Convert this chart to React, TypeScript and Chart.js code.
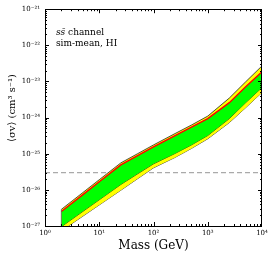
import React, { useEffect, useRef } from "react";
import { Chart, registerables } from "chart.js";

Chart.register(...registerables);

// Dark-matter mass (GeV)
const masses = [2, 5, 10, 25, 50, 100, 250, 500, 1000, 2500, 5000, 10000];
// Yellow band (upper / lower edge), cm^3 s^-1
const yellowHigh = [2.88e-27, 8.45e-27, 1.91e-26, 5.58e-26, 9.88e-26, 1.75e-25, 3.62e-25, 6.21e-25, 1.10e-24, 3.48e-24, 9.79e-24, 2.70e-23];
const yellowLow = [7.36e-28, 1.88e-27, 3.83e-27, 9.77e-27, 2.0e-26, 4.07e-26, 7.92e-26, 1.40e-25, 2.59e-25, 7.28e-25, 1.88e-24, 4.97e-24];
// Green band (upper edge drawn red / lower edge)
const greenHigh = [2.51e-27, 7.40e-27, 1.68e-26, 4.92e-26, 8.71e-26, 1.54e-25, 3.19e-25, 5.47e-25, 9.38e-25, 2.59e-24, 7.13e-24, 1.85e-23];
const greenLow = [9.55e-28, 2.54e-27, 5.32e-27, 1.41e-26, 2.73e-26, 5.25e-26, 1.02e-25, 1.75e-25, 3.19e-25, 9.38e-25, 2.59e-24, 6.82e-24];
// Thermal relic cross section
const thermalRelic = 3e-26;
const xRange = [1, 10000];
const yRange = [1e-27, 1e-21];
const xTickExps = [0, 1, 2, 3, 4];
const yTickExps = [-27, -26, -25, -24, -23, -22, -21];

const SUP: Record<string, string> = {
  "0": "⁰", "1": "¹", "2": "²", "3": "³", "4": "⁴", "5": "⁵", "6": "⁶", "7": "⁷", "8": "⁸", "9": "⁹", "-": "⁻",
};
const sup = (n: number) => String(n).split("").map((c) => SUP[c] || c).join("");
const pts = (ys: number[]) => masses.map((m, i) => ({ x: m, y: ys[i] }));

const SERIF = "'DejaVu Serif', serif";

const framePlugin = {
  id: "frameTicks",
  afterDatasetsDraw(chart: any) {
    const { ctx, chartArea: a, scales } = chart;
    const x = scales.x, y = scales.y;
    ctx.save();
    ctx.strokeStyle = "#000";
    ctx.lineWidth = 1;
    ctx.beginPath();
    for (let d = 0; d < 4; d++) {
      for (let k = 1; k <= 9; k++) {
        const px = Math.round(x.getPixelForValue(k * Math.pow(10, d))) + 0.5;
        const len = k === 1 ? 4 : 2;
        ctx.moveTo(px, a.bottom); ctx.lineTo(px, a.bottom - len);
        ctx.moveTo(px, a.top); ctx.lineTo(px, a.top + len);
      }
    }
    for (let d = -27; d < -21; d++) {
      for (let k = 1; k <= 9; k++) {
        const py = Math.round(y.getPixelForValue(k * Math.pow(10, d))) + 0.5;
        const len = k === 1 ? 4 : 2;
        ctx.moveTo(a.left, py); ctx.lineTo(a.left + len, py);
        ctx.moveTo(a.right, py); ctx.lineTo(a.right - len, py);
      }
    }
    ctx.stroke();
    ctx.strokeRect(Math.round(a.left) + 0.5, Math.round(a.top) + 0.5, Math.round(a.right - a.left) - 1, Math.round(a.bottom - a.top));

    // axis titles
    ctx.fillStyle = "#000";
    ctx.textAlign = "center";
    ctx.textBaseline = "middle";
    ctx.font = `12px ${SERIF}`;
    ctx.fillText("Mass (GeV)", (a.left + a.right) / 2, 246);
    ctx.save();
    ctx.translate(12, 108);
    ctx.rotate(-Math.PI / 2);
    ctx.font = `10px ${SERIF}`;
    ctx.fillText("⟨σv⟩ (cm³ s⁻¹)", 0, 0);
    ctx.restore();

    // annotation
    ctx.textAlign = "left";
    ctx.textBaseline = "alphabetic";
    ctx.font = `italic 9px ${SERIF}`;
    const t1 = "ss̄";
    ctx.fillText(t1, 56, 35);
    const w1 = ctx.measureText(t1).width;
    ctx.font = `9px ${SERIF}`;
    ctx.fillText(" channel", 56 + w1, 35);
    ctx.fillText("sim-mean, HI", 56, 46);
    ctx.restore();
  },
};

export default function App() {
  const ref = useRef<HTMLCanvasElement | null>(null);
  useEffect(() => {
    if (!ref.current) return;
    const chart = new Chart(ref.current, {
      type: "line",
      data: {
        datasets: [
          {
            label: "yellowLow",
            data: pts(yellowLow),
            borderColor: "#222",
            borderWidth: 0.8,
            pointRadius: 0,
            fill: false,
            order: 6,
          },
          {
            label: "yellowHigh",
            data: pts(yellowHigh),
            borderColor: "#222",
            borderWidth: 0.8,
            backgroundColor: "#ffff00",
            pointRadius: 0,
            fill: "-1",
            order: 5,
          },
          {
            label: "greenLow",
            data: pts(greenLow),
            borderColor: "#222",
            borderWidth: 0.8,
            pointRadius: 0,
            fill: false,
            order: 4,
          },
          {
            label: "greenHigh",
            data: pts(greenHigh),
            borderColor: "#ff0000",
            borderWidth: 1.4,
            backgroundColor: "#00ff00",
            pointRadius: 0,
            fill: "-1",
            order: 3,
          },
          {
            label: "edge",
            data: [
              { x: masses[0], y: yellowLow[0] },
              { x: masses[0], y: yellowHigh[0] },
            ],
            borderColor: "#555",
            borderWidth: 0.8,
            pointRadius: 0,
            fill: false,
            order: 2,
          },
          {
            label: "relic",
            data: [
              { x: xRange[0], y: thermalRelic },
              { x: xRange[1], y: thermalRelic },
            ],
            borderColor: "#aaaaaa",
            borderWidth: 1.2,
            borderDash: [5, 3],
            pointRadius: 0,
            fill: false,
            order: 10,
          },
        ],
      },
      options: {
        responsive: false,
        animation: false,
        layout: { padding: { top: 8, right: 12, left: 0, bottom: 0 } },
        plugins: { legend: { display: false }, tooltip: { enabled: false } },
        scales: {
          x: {
            type: "logarithmic",
            min: xRange[0],
            max: xRange[1],
            grid: { display: false, drawTicks: false },
            border: { display: false },
            afterBuildTicks: (s: any) => {
              s.ticks = xTickExps.map((e) => ({ value: Math.pow(10, e) }));
            },
            afterFit: (s: any) => {
              s.height = 31;
            },
            ticks: {
              autoSkip: false,
              maxRotation: 0,
              padding: 3,
              color: "#000",
              font: { family: SERIF, size: 7 },
              callback: (v: any) => "10" + sup(Math.round(Math.log10(Number(v)))),
            },
          },
          y: {
            type: "logarithmic",
            min: yRange[0],
            max: yRange[1],
            grid: { display: false, drawTicks: false },
            border: { display: false },
            afterBuildTicks: (s: any) => {
              s.ticks = yTickExps.map((e) => ({ value: Math.pow(10, e) }));
            },
            afterFit: (s: any) => {
              s.width = 45;
            },
            ticks: {
              autoSkip: false,
              padding: 5,
              color: "#000",
              font: { family: SERIF, size: 7 },
              callback: (v: any) => "10" + sup(Math.round(Math.log10(Number(v)))),
            },
          },
        },
      },
      plugins: [framePlugin],
    } as any);
    return () => chart.destroy();
  }, []);
  return (
    <div style={{ position: "fixed", left: 0, top: 0, width: 274, height: 257, background: "#fff" }}>
      <canvas ref={ref} width={274} height={257} />
    </div>
  );
}
